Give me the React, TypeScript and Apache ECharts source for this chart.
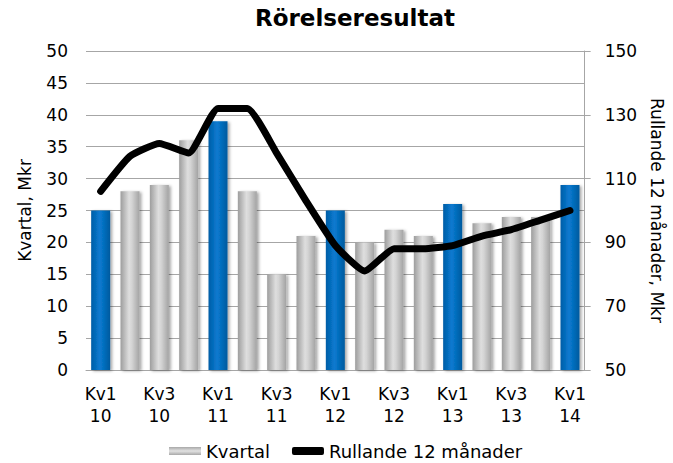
import React, { useEffect, useRef } from "react";
import * as echarts from "echarts";

const categories = [
  "Kv1\n10", "Kv2\n10", "Kv3\n10", "Kv4\n10",
  "Kv1\n11", "Kv2\n11", "Kv3\n11", "Kv4\n11",
  "Kv1\n12", "Kv2\n12", "Kv3\n12", "Kv4\n12",
  "Kv1\n13", "Kv2\n13", "Kv3\n13", "Kv4\n13",
  "Kv1\n14",
];
const kvartal = [25, 28, 29, 36, 39, 28, 15, 21, 25, 20, 22, 21, 26, 23, 24, 24, 29];
const rullande = [106, 117, 121, 118, 132, 132, 118, 103, 89, 81, 88, 88, 89, 92, 94, 97, 100];
const leftTicks = { min: 0, max: 50, interval: 5 };
const rightTicks = { min: 50, max: 150, interval: 20 };

const FONT = "DejaVu Sans";

const greyGrad = new echarts.graphic.LinearGradient(0, 0, 1, 0, [
  { offset: 0, color: "#9d9d9d" },
  { offset: 0.45, color: "#dedede" },
  { offset: 0.6, color: "#d4d4d4" },
  { offset: 1, color: "#a3a3a3" },
]);
const blueGrad = new echarts.graphic.LinearGradient(0, 0, 1, 0, [
  { offset: 0, color: "#005da6" },
  { offset: 0.45, color: "#0a7ad0" },
  { offset: 0.6, color: "#0672c4" },
  { offset: 1, color: "#005a9e" },
]);
const legendGrad = new echarts.graphic.LinearGradient(0, 0, 0, 1, [
  { offset: 0, color: "#a8a8a8" },
  { offset: 0.5, color: "#e2e2e2" },
  { offset: 1, color: "#a8a8a8" },
]);

export default function App() {
  const ref = useRef<HTMLDivElement>(null);
  useEffect(() => {
    if (!ref.current) return;
    const chart = echarts.init(ref.current, undefined, { renderer: "svg" });
    chart.setOption({
      animation: false,
      backgroundColor: "#ffffff",
      textStyle: { fontFamily: FONT },
      title: {
        text: "Rörelseresultat",
        left: 350,
        textAlign: "center",
        top: 1,
        textStyle: { fontFamily: FONT, fontSize: 23, fontWeight: "bold", color: "#000" },
      },
      grid: { left: 86, right: 81, top: 51, bottom: 93 },
      legend: {
        top: 442,
        left: 169,
        padding: 0,
        orient: "horizontal",
        itemGap: 22,
        itemWidth: 32,
        itemHeight: 8,
        textStyle: { fontFamily: FONT, fontSize: 18, color: "#000" },
        data: [
          { name: "Kvartal", icon: "rect", itemStyle: { color: legendGrad } },
          { name: "Rullande 12 månader", icon: "roundRect", itemStyle: { color: "#000" } },
        ],
      },
      xAxis: {
        type: "category",
        data: categories,
        axisLine: { show: true, lineStyle: { color: "#a6a6a6", width: 1 } },
        axisTick: { show: false },
        axisLabel: {
          interval: 1,
          fontFamily: FONT,
          fontSize: 17,
          color: "#000",
          lineHeight: 22,
          margin: 13,
        },
      },
      yAxis: [
        {
          type: "value",
          ...leftTicks,
          name: "Kvartal, Mkr",
          nameLocation: "middle",
          nameRotate: 90,
          nameGap: 53,
          nameTextStyle: { fontFamily: FONT, fontSize: 17, color: "#000" },
          axisLine: { show: false },
          axisTick: { show: false },
          axisLabel: { fontFamily: FONT, fontSize: 17, color: "#000", margin: 18 },
          splitLine: { show: true, lineStyle: { color: "#a6a6a6", width: 1 } },
        },
        {
          type: "value",
          position: "right",
          ...rightTicks,
          name: "Rullande 12 månader, Mkr",
          nameLocation: "middle",
          nameRotate: -90,
          nameGap: 55,
          nameTextStyle: { fontFamily: FONT, fontSize: 17, color: "#000" },
          axisLine: { show: true, lineStyle: { color: "#a6a6a6", width: 1 } },
          axisTick: { show: true, length: 6, lineStyle: { color: "#a6a6a6" } },
          axisLabel: { fontFamily: FONT, fontSize: 17, color: "#000", margin: 20 },
          splitLine: { show: false },
        },
      ],
      series: [
        {
          name: "Kvartal",
          type: "bar",
          yAxisIndex: 0,
          barWidth: 19,
          data: kvartal.map((v, i) => ({
            value: v,
            itemStyle: {
              color: categories[i].startsWith("Kv1") ? blueGrad : greyGrad,
            },
          })),
          itemStyle: {
            color: greyGrad,
            shadowColor: "rgba(0,0,0,0.35)",
            shadowBlur: 3,
            shadowOffsetX: 2,
            shadowOffsetY: 1,
          },
        },
        {
          name: "Rullande 12 månader",
          type: "line",
          yAxisIndex: 1,
          data: rullande,
          symbol: "none",
          smooth: 0.15,
          lineStyle: { color: "#000", width: 7, cap: "round", join: "round" },
          itemStyle: { color: "#000" },
        },
      ],
    });
    return () => chart.dispose();
  }, []);
  return <div ref={ref} style={{ width: 673, height: 463, position: "absolute", left: 0, top: 0 }} />;
}
